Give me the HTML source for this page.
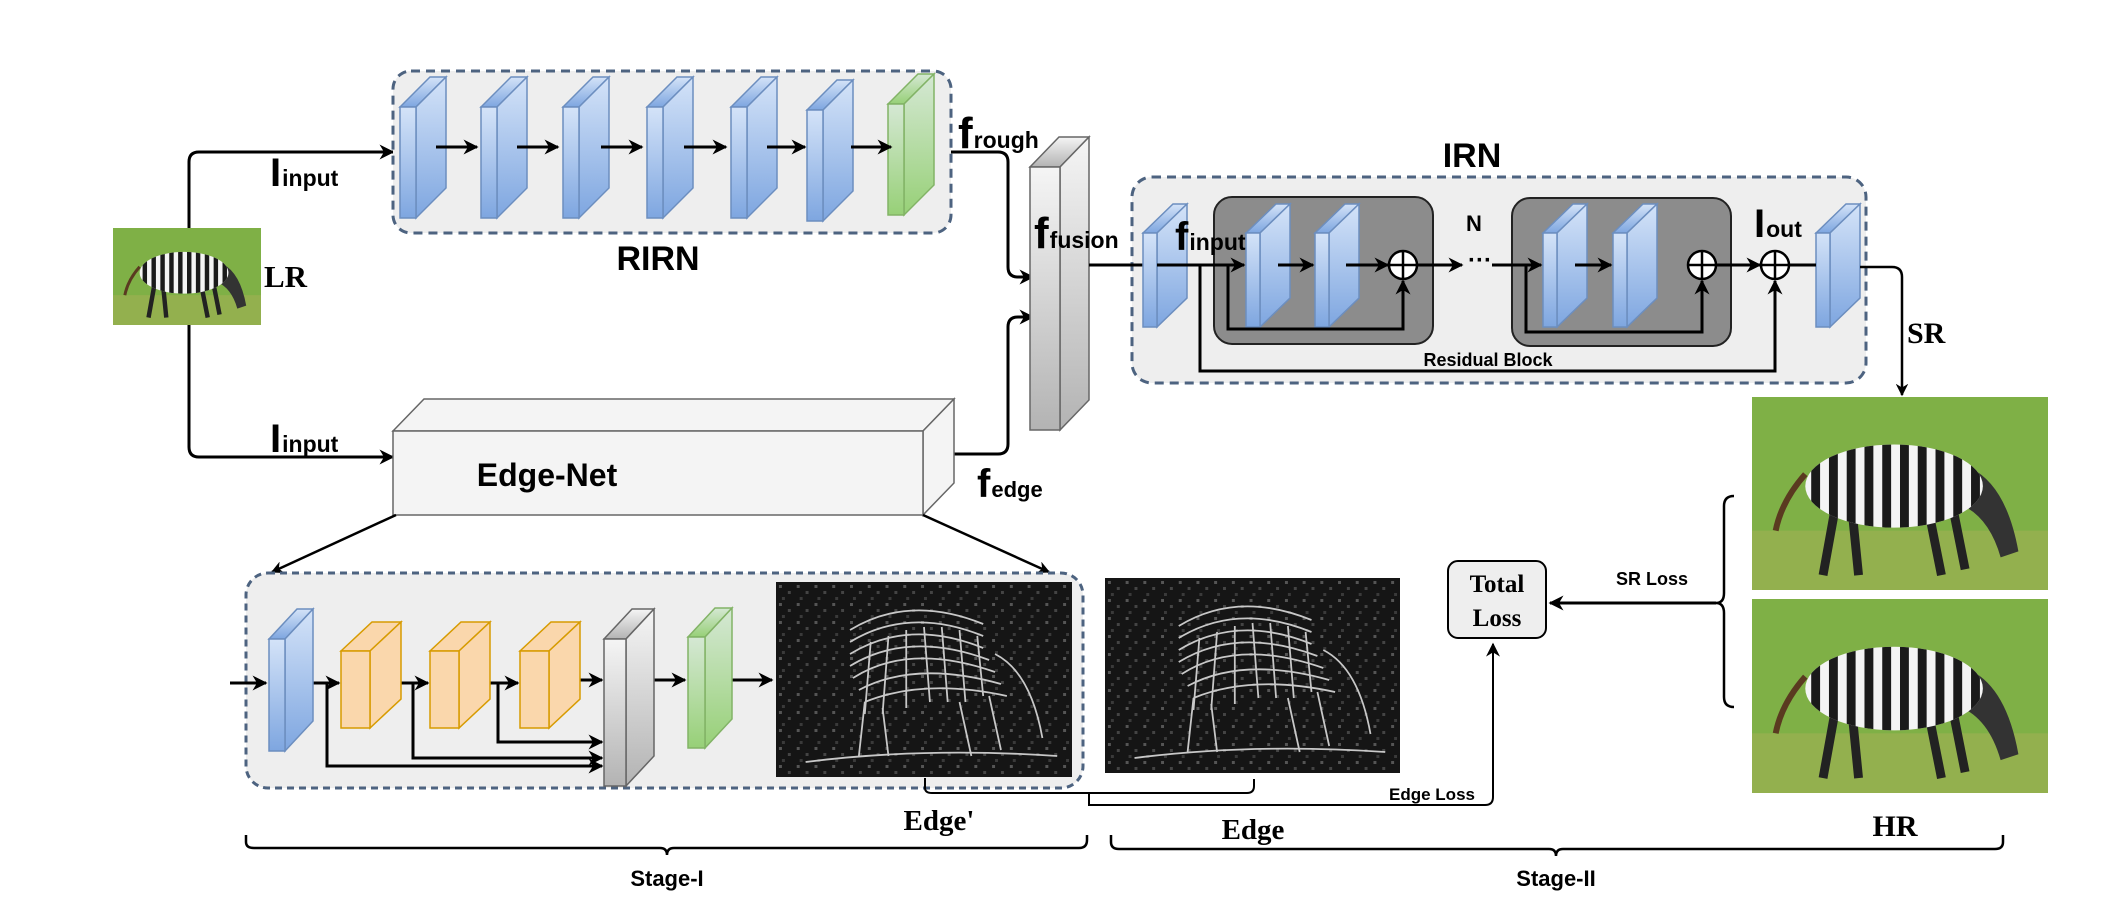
<!DOCTYPE html>
<html><head><meta charset="utf-8"><style>
html,body{margin:0;padding:0;background:#fff;}
svg{display:block;}
text{font-family:"Liberation Sans",sans-serif;}
.s{font-family:"Liberation Serif",serif;font-weight:bold;}
</style></head><body>
<svg width="2112" height="920" viewBox="0 0 2112 920" xmlns="http://www.w3.org/2000/svg">
<defs>
<linearGradient id="gb" x1="0" y1="0" x2="0" y2="1"><stop offset="0" stop-color="#d4e3f8"/><stop offset="1" stop-color="#7ea6e0"/></linearGradient>
<linearGradient id="gg" x1="0" y1="0" x2="0" y2="1"><stop offset="0" stop-color="#d5e8d4"/><stop offset="1" stop-color="#97d077"/></linearGradient>
<linearGradient id="gy" x1="0" y1="0" x2="0" y2="1"><stop offset="0" stop-color="#f5f5f5"/><stop offset="1" stop-color="#b3b3b3"/></linearGradient>
<pattern id="noise" width="6" height="6" patternUnits="userSpaceOnUse"><rect width="6" height="6" fill="#151515"/><rect x="1" y="1" width="1" height="1" fill="#555"/><rect x="4" y="3" width="1" height="1" fill="#444"/><rect x="2" y="5" width="1" height="1" fill="#3a3a3a"/></pattern>
<marker id="ar" viewBox="0 0 10 10" refX="9" refY="5" markerWidth="5" markerHeight="5" orient="auto-start-reverse"><path d="M0,0 L10,5 L0,10 L3,5 z" fill="#000"/></marker>
<marker id="ar2" viewBox="0 0 10 10" refX="9" refY="5" markerWidth="7" markerHeight="7" orient="auto"><path d="M0,0 L10,5 L0,10 L3,5 z" fill="#000"/></marker>
<clipPath id="bc"><ellipse cx="48" cy="30" rx="30" ry="14"/></clipPath>
<symbol id="zebra" viewBox="0 0 100 65" preserveAspectRatio="none">
<rect width="100" height="65" fill="#7fb046"/>
<rect y="45" width="100" height="20" fill="#93b04e"/>
<g stroke="#222" stroke-width="3" fill="none">
<path d="M28,38 L24,60 M34,40 L36,60 M60,40 L64,60 M68,38 L72,58"/>
</g>
<path d="M18,26 Q10,35 8,45" stroke="#5a3a20" stroke-width="2" fill="none"/>
<path d="M74,24 Q86,30 90,52 L84,54 Q80,40 70,36 z" fill="#333"/>
<ellipse cx="48" cy="30" rx="30" ry="14" fill="#f4f4f4"/>
<g clip-path="url(#bc)" fill="#1a1a1a">
<rect x="20" y="10" width="3" height="40"/><rect x="26" y="10" width="3" height="40"/><rect x="32" y="10" width="3" height="40"/><rect x="38" y="10" width="3" height="40"/><rect x="44" y="10" width="3" height="40"/><rect x="50" y="10" width="3" height="40"/><rect x="56" y="10" width="3" height="40"/><rect x="62" y="10" width="3" height="40"/><rect x="68" y="10" width="3" height="40"/><rect x="74" y="10" width="3" height="40"/>
</g>
</symbol>
<symbol id="edgeimg" viewBox="0 0 100 65" preserveAspectRatio="none">
<rect width="100" height="65" fill="url(#noise)"/>
<g stroke="#c8c8c8" stroke-width="0.6" fill="none">
<path d="M25,16 Q45,4 70,14"/><path d="M25,20 Q45,8 70,18"/><path d="M25,24 Q45,12 70,22"/><path d="M25,28 Q45,16 72,26"/><path d="M26,32 Q45,20 74,30"/><path d="M28,36 Q47,26 76,34"/><path d="M30,40 Q50,32 78,38"/>
<path d="M32,20 L30,44 M38,18 L36,44 M44,16 L44,42 M50,15 L52,40 M56,15 L58,40 M62,16 L64,40 M68,18 L70,38"/>
<path d="M30,40 L28,58 M36,42 L38,58 M62,40 L66,58 M72,38 L76,56"/>
<path d="M74,24 Q86,30 90,52"/><path d="M10,60 Q50,55 95,58"/>
</g>
</symbol>
</defs>

<use href="#zebra" x="113" y="228" width="148" height="97"/>
<text x="264" y="287" class="s" font-size="31">LR</text>

<path d="M189,228 L189,162 Q189,152 199,152 L393,152" stroke="#000" stroke-width="3" fill="none" marker-end="url(#ar)"/>
<path d="M189,325 L189,447 Q189,457 199,457 L393,457" stroke="#000" stroke-width="3" fill="none" marker-end="url(#ar)"/>
<text x="270" y="186" font-weight="bold" font-size="40">I<tspan font-size="23" dx="1">input</tspan></text>
<text x="270" y="452" font-weight="bold" font-size="40">I<tspan font-size="23" dx="1">input</tspan></text>

<rect x="393" y="71" width="558" height="162" rx="18" fill="#eeeeee" stroke="#4d6380" stroke-width="3" stroke-dasharray="9,6"/>
<g stroke="#6c8ebf" stroke-width="1.5" fill="url(#gb)">
<g id="rs"><polygon points="400,107 430,77 446,77 416,107"/><polygon points="416,107 446,77 446,188 416,218"/><rect x="400" y="107" width="16" height="111"/></g>
<use href="#rs" x="81"/><use href="#rs" x="163"/><use href="#rs" x="247"/><use href="#rs" x="331"/><use href="#rs" x="407" y="3"/>
</g>
<g stroke="#82b366" stroke-width="1.5" fill="url(#gg)"><use href="#rs" x="488" y="-3"/></g>
<g stroke="#000" stroke-width="3" marker-end="url(#ar)">
<line x1="436" y1="147" x2="477" y2="147"/><line x1="517" y1="147" x2="558" y2="147"/><line x1="601" y1="147" x2="642" y2="147"/><line x1="684" y1="147" x2="726" y2="147"/><line x1="767" y1="147" x2="805" y2="147"/><line x1="851" y1="147" x2="891" y2="147"/>
</g>
<text x="658" y="270" text-anchor="middle" font-weight="bold" font-size="34">RIRN</text>

<text x="958" y="148" font-weight="bold" font-size="44">f<tspan font-size="23" dx="1">rough</tspan></text>
<path d="M951,152 L998,152 Q1008,152 1008,162 L1008,267 Q1008,277 1018,277 L1033,277" stroke="#000" stroke-width="3" fill="none" marker-end="url(#ar)"/>
<path d="M923,454 L998,454 Q1008,454 1008,444 L1008,327 Q1008,317 1018,317 L1033,317" stroke="#000" stroke-width="3" fill="none" marker-end="url(#ar)"/>

<g stroke="#666" stroke-width="1.5" fill="url(#gy)">
<polygon points="1030,167 1059,137 1089,137 1060,167"/><polygon points="1060,167 1089,137 1089,400 1060,430"/><rect x="1030" y="167" width="30" height="263"/>
</g>
<text x="1034" y="248" font-weight="bold" font-size="44">f<tspan font-size="23" dx="1">fusion</tspan></text>

<g stroke="#666" stroke-width="1.5" fill="#f4f4f4">
<polygon points="393,431 424,399 954,399 923,431"/><polygon points="923,431 954,399 954,483 923,515"/><rect x="393" y="431" width="530" height="84"/>
</g>
<text x="547" y="486" text-anchor="middle" font-weight="bold" font-size="32">Edge-Net</text>
<text x="977" y="497" font-weight="bold" font-size="40">f<tspan font-size="22" dx="1">edge</tspan></text>
<line x1="396" y1="515" x2="272" y2="572" stroke="#000" stroke-width="2.5" marker-end="url(#ar)"/>
<line x1="923" y1="515" x2="1049" y2="572" stroke="#000" stroke-width="2.5" marker-end="url(#ar)"/>

<text x="1472" y="167" text-anchor="middle" font-weight="bold" font-size="34">IRN</text>
<rect x="1132" y="177" width="734" height="206" rx="20" fill="#eeeeee" stroke="#4d6380" stroke-width="3" stroke-dasharray="9,6"/>
<line x1="1089" y1="265" x2="1143" y2="265" stroke="#000" stroke-width="3"/>
<rect x="1214" y="197" width="219" height="147" rx="18" fill="#8c8c8c" stroke="#222" stroke-width="2"/>
<rect x="1512" y="198" width="219" height="148" rx="18" fill="#8c8c8c" stroke="#222" stroke-width="2"/>
<g stroke="#6c8ebf" stroke-width="1.5" fill="url(#gb)">
<g id="is"><polygon points="1143,233 1173,204 1187,204 1157,233"/><polygon points="1157,233 1187,204 1187,298 1157,327"/><rect x="1143" y="233" width="14" height="94"/></g>
<use href="#is" x="103"/><use href="#is" x="172"/><use href="#is" x="400"/><use href="#is" x="470"/><use href="#is" x="673"/>
</g>
<text x="1175" y="250" font-weight="bold" font-size="40">f<tspan font-size="23" dx="1">input</tspan></text>
<g stroke="#000" stroke-width="3" fill="none">
<line x1="1157" y1="265" x2="1244" y2="265" marker-end="url(#ar)"/>
<line x1="1278" y1="265" x2="1313" y2="265" marker-end="url(#ar)"/>
<line x1="1346" y1="265" x2="1388" y2="265" marker-end="url(#ar)"/>
<line x1="1417" y1="265" x2="1462" y2="265" marker-end="url(#ar)"/>
<line x1="1492" y1="265" x2="1541" y2="265" marker-end="url(#ar)"/>
<line x1="1575" y1="265" x2="1611" y2="265" marker-end="url(#ar)"/>
<line x1="1716" y1="265" x2="1760" y2="265" marker-end="url(#ar)"/>
<line x1="1789" y1="265" x2="1816" y2="265"/>
<path d="M1228,265 L1228,329 L1403,329 L1403,281" marker-end="url(#ar)"/>
<path d="M1526,265 L1526,332 L1702,332 L1702,281" marker-end="url(#ar)"/>
<path d="M1200,265 L1200,371 L1775,371 L1775,281" marker-end="url(#ar)"/>
</g>
<text x="1468" y="268" font-weight="bold" font-size="24">···</text>
<g stroke="#000" stroke-width="2.5" fill="#fff">
<circle cx="1403" cy="265" r="14"/><circle cx="1702" cy="265" r="14"/><circle cx="1775" cy="265" r="14"/>
</g>
<g stroke="#000" stroke-width="2.5">
<line x1="1389" y1="265" x2="1417" y2="265"/><line x1="1403" y1="251" x2="1403" y2="279"/>
<line x1="1688" y1="265" x2="1716" y2="265"/><line x1="1702" y1="251" x2="1702" y2="279"/>
<line x1="1761" y1="265" x2="1789" y2="265"/><line x1="1775" y1="251" x2="1775" y2="279"/>
</g>
<text x="1474" y="231" text-anchor="middle" font-weight="bold" font-size="22">N</text>
<text x="1754" y="237" font-weight="bold" font-size="40">I<tspan font-size="23" dx="1">out</tspan></text>
<text x="1488" y="366" text-anchor="middle" font-weight="bold" font-size="18">Residual Block</text>

<path d="M1860,267 L1892,267 Q1902,267 1902,277 L1902,395" stroke="#000" stroke-width="2.5" fill="none" marker-end="url(#ar)"/>
<text x="1907" y="343" class="s" font-size="30">SR</text>

<use href="#zebra" x="1752" y="397" width="296" height="193"/>
<use href="#zebra" x="1752" y="599" width="296" height="194"/>
<text x="1895" y="836" text-anchor="middle" class="s" font-size="30">HR</text>

<path d="M1734,496 Q1724,496 1724,506 L1724,593 Q1724,603 1716,603 Q1724,603 1724,613 L1724,697 Q1724,707 1734,707" stroke="#000" stroke-width="2.5" fill="none"/>
<line x1="1716" y1="603" x2="1550" y2="603" stroke="#000" stroke-width="3" marker-end="url(#ar)"/>
<text x="1652" y="585" text-anchor="middle" font-weight="bold" font-size="18">SR Loss</text>
<rect x="1448" y="561" width="98" height="77" rx="10" fill="#eeeeee" stroke="#000" stroke-width="2"/>
<text x="1497" y="592" text-anchor="middle" class="s" font-size="25">Total</text>
<text x="1497" y="626" text-anchor="middle" class="s" font-size="25">Loss</text>

<rect x="246" y="573" width="837" height="215" rx="22" fill="#eeeeee" stroke="#4d6380" stroke-width="3" stroke-dasharray="7,5"/>
<g stroke="#000" stroke-width="3" fill="none">
<line x1="230" y1="683" x2="266" y2="683" marker-end="url(#ar)"/>
<line x1="297" y1="683" x2="339" y2="683" marker-end="url(#ar)"/>
<line x1="386" y1="683" x2="428" y2="683" marker-end="url(#ar)"/>
<line x1="478" y1="683" x2="518" y2="683" marker-end="url(#ar)"/>
<line x1="562" y1="680" x2="602" y2="680" marker-end="url(#ar)"/>
<line x1="645" y1="680" x2="685" y2="680" marker-end="url(#ar)"/>
<line x1="724" y1="680" x2="772" y2="680" marker-end="url(#ar)"/>
<path d="M327,683 L327,766 L602,766" marker-end="url(#ar)"/>
<path d="M413,683 L413,758 L602,758" marker-end="url(#ar)"/>
<path d="M498,683 L498,742 L602,742" marker-end="url(#ar)"/>
</g>
<g stroke="#6c8ebf" stroke-width="1.5" fill="url(#gb)">
<polygon points="269,639 297,609 313,609 285,639"/><polygon points="285,639 313,609 313,721 285,751"/><rect x="269" y="639" width="16" height="112"/>
</g>
<g stroke="#d79b00" stroke-width="1.5" fill="#fad7ac">
<g id="os"><polygon points="341,651 372,622 401,622 370,651"/><polygon points="370,651 401,622 401,699 370,728"/><rect x="341" y="651" width="29" height="77"/></g>
<use href="#os" x="89"/><use href="#os" x="179"/>
</g>
<g stroke="#666" stroke-width="1.5" fill="url(#gy)">
<polygon points="604,639 632,609 654,609 626,639"/><polygon points="626,639 654,609 654,756 626,786"/><rect x="604" y="639" width="22" height="147"/>
</g>
<g stroke="#82b366" stroke-width="1.5" fill="url(#gg)">
<polygon points="688,637 715,608 732,608 705,637"/><polygon points="705,637 732,608 732,719 705,748"/><rect x="688" y="637" width="17" height="111"/>
</g>
<use href="#edgeimg" x="776" y="582" width="296" height="195"/>
<use href="#edgeimg" x="1105" y="578" width="295" height="195"/>

<path d="M925,778 L925,788 Q925,793 932,793 L1247,793 Q1254,793 1254,786 L1254,779" stroke="#000" stroke-width="2" fill="none"/>
<path d="M1089,793 L1089,805 L1485,805 Q1493,805 1493,797 L1493,644" stroke="#000" stroke-width="2" fill="none" marker-end="url(#ar2)"/>
<text x="1432" y="800" text-anchor="middle" font-weight="bold" font-size="17">Edge Loss</text>
<text x="939" y="830" text-anchor="middle" class="s" font-size="29">Edge'</text>
<text x="1253" y="839" text-anchor="middle" class="s" font-size="29">Edge</text>

<path d="M246,835 L246,842 Q246,848 254,848 L660,848 Q667,848 667,855 Q667,848 674,848 L1079,848 Q1087,848 1087,840 L1087,835" stroke="#000" stroke-width="2.5" fill="none"/>
<path d="M1111,835 L1111,842 Q1111,849 1119,849 L1549,849 Q1556,849 1556,856 Q1556,849 1563,849 L1995,849 Q2003,849 2003,842 L2003,835" stroke="#000" stroke-width="2.5" fill="none"/>
<text x="667" y="886" text-anchor="middle" font-weight="bold" font-size="22">Stage-I</text>
<text x="1556" y="886" text-anchor="middle" font-weight="bold" font-size="22">Stage-II</text>
</svg>
</body></html>
